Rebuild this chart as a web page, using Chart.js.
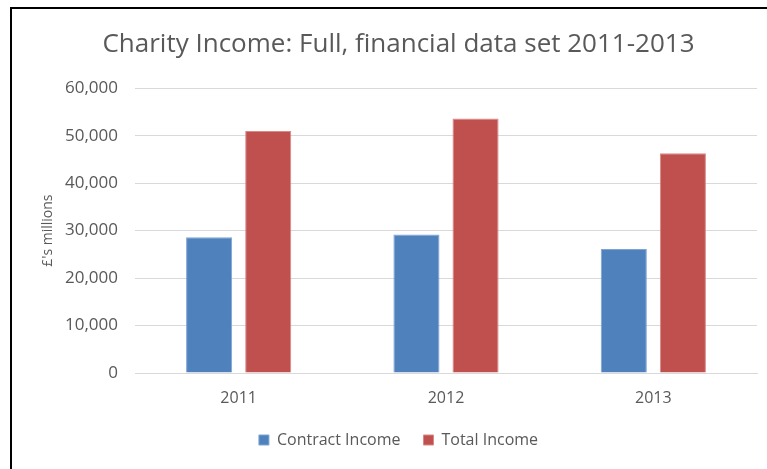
<!DOCTYPE html>
<html>
<head>
<meta charset="utf-8">
<script src="https://cdn.jsdelivr.net/npm/chart.js@4"></script>
<style>
  html, body { margin: 0; padding: 0; background: #fff; }
  #wrap { position: relative; width: 767px; height: 469px; }
  #frame { position: absolute; left: 10px; top: 7px; width: 760px; height: 470px;
           border-left: 2px solid #000; border-top: 2px solid #000; pointer-events: none; }
  canvas { position: absolute; left: 0; top: 0; }
</style>
</head>
<body>
<div id="wrap">
  <canvas id="c" width="767" height="469"></canvas>
  <div id="frame"></div>
</div>
<script>
const years = ["2011", "2012", "2013"];
const contractIncome = [28600, 29200, 26100];
const totalIncome = [51000, 53600, 46300];
const yTicks = [0, 10000, 20000, 30000, 40000, 50000, 60000];

const FONT = "'Open Sans', sans-serif";
const GREY = "#595959";

new Chart(document.getElementById("c"), {
  type: "bar",
  data: {
    labels: years,
    datasets: [
      { label: "Contract Income", data: contractIncome, backgroundColor: "#4F81BD",
        borderColor: "#7FA3D3", borderWidth: 1 },
      { label: "Total Income", data: totalIncome, backgroundColor: "#C0504D",
        borderColor: "#D88886", borderWidth: 1 }
    ]
  },
  options: {
    responsive: false,
    animation: false,
    devicePixelRatio: 1,
    layout: { padding: { left: 40, right: 10, top: 29, bottom: 11 } },
    datasets: { bar: { categoryPercentage: 0.57, barPercentage: 0.78 } },
    plugins: {
      title: {
        display: true,
        text: "Charity Income: Full, financial data set 2011-2013",
        color: GREY,
        font: { family: FONT, size: 26, weight: "normal" },
        padding: { top: 0, bottom: 28 }
      },
      legend: {
        position: "bottom",
        labels: {
          color: GREY,
          font: { family: FONT, size: 16 },
          boxWidth: 10, boxHeight: 10,
          padding: 23
        }
      },
      tooltip: { enabled: false }
    },
    scales: {
      x: {
        afterFit: (s) => { s.height = 36; },
        grid: { display: false, drawTicks: false },
        border: { display: true, color: "#D9D9D9", width: 1 },
        ticks: { color: GREY, font: { family: FONT, size: 16 }, padding: 16 }
      },
      y: {
        min: 0, max: 60000,
        afterBuildTicks: (s) => { s.ticks = yTicks.map(v => ({ value: v })); },
        afterFit: (s) => { s.width = 95; },
        grid: { color: "#D9D9D9", drawTicks: false },
        border: { display: false },
        ticks: {
          color: GREY, font: { family: FONT, size: 17 }, padding: 17,
          callback: (v) => v.toLocaleString("en-US")
        },
        title: {
          display: true, text: "£'s millions", color: GREY,
          font: { family: FONT, size: 14 }, padding: 0
        }
      }
    }
  }
});
</script>
</body>
</html>
